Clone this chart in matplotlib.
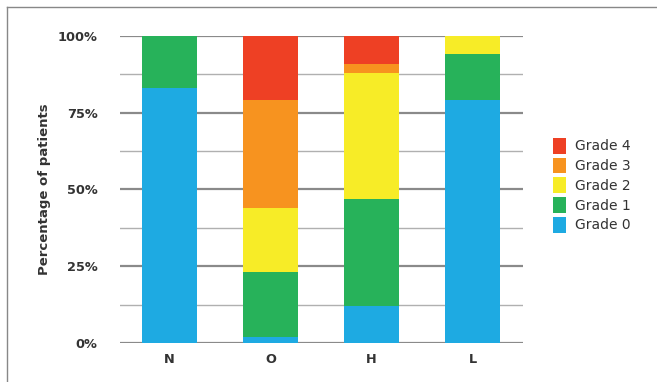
import matplotlib
matplotlib.use("Agg")
import matplotlib.pyplot as plt
from matplotlib.lines import Line2D
from matplotlib.patches import Patch
import numpy as np

groups = ["N", "O", "H", "L"]
grades = ["Grade 0", "Grade 1", "Grade 2", "Grade 3", "Grade 4"]
grade0 = [83, 2, 12, 79]
grade1 = [17, 21, 35, 15]
grade2 = [0, 21, 41, 6]
grade3 = [0, 35, 3, 0]
grade4 = [0, 21, 9, 0]
colors = ["#1eaae2", "#27b25a", "#f7ec27", "#f7931f", "#ee4024"]

series = [grade0, grade1, grade2, grade3, grade4]

fig = plt.figure(figsize=(6.57, 3.82), dpi=100)
ax = fig.add_axes([0.1826, 0.1021, 0.6134, 0.8037])

# gridlines: light ones between the labelled ones
for y in [12.5, 37.5, 62.5, 87.5]:
    ax.axhline(y, color="#b0b0b0", lw=1.0, zorder=0)
for y in [0, 25, 50, 75, 100]:
    ax.axhline(y, color="#8a8a8a", lw=1.6, zorder=0)

x = np.arange(len(groups))
bottom = np.zeros(len(groups))
for vals, c in zip(series, colors):
    ax.bar(x, vals, width=0.545, bottom=bottom, color=c, zorder=2)
    bottom += np.array(vals)

ax.set_xlim(-0.49, 3.5)
ax.set_ylim(0, 100)
ax.set_yticks([0, 25, 50, 75, 100])
ax.set_yticklabels(["0%", "25%", "50%", "75%", "100%"])
ax.set_xticks(x)
ax.set_xticklabels(groups)
for s in ax.spines.values():
    s.set_visible(False)
ax.tick_params(length=0, labelsize=9.3, colors="#333333")
ax.tick_params(axis="y", pad=16)
ax.tick_params(axis="x", pad=7)
for lab in ax.get_xticklabels() + ax.get_yticklabels():
    lab.set_fontweight("bold")
ax.set_ylabel("Percentage of patients", fontsize=9.5, fontweight="bold",
              color="#333333", labelpad=5)

handles = [Patch(facecolor=c, edgecolor="none") for c in colors][::-1]
leg = fig.legend(handles, grades[::-1], loc="center left",
                 bbox_to_anchor=(0.822, 0.515), frameon=False, fontsize=10,
                 handlelength=1.0, handleheight=1.35, labelspacing=0.3,
                 handletextpad=0.6)
for t in leg.get_texts():
    t.set_color("#333333")

# frame around the picture
fig.add_artist(Line2D([0.011, 0.011], [0, 0.982], transform=fig.transFigure,
                      color="#888888", lw=1))
fig.add_artist(Line2D([0.011, 1.0], [0.982, 0.982], transform=fig.transFigure,
                      color="#888888", lw=1))

fig.savefig("out.png", dpi=100)
